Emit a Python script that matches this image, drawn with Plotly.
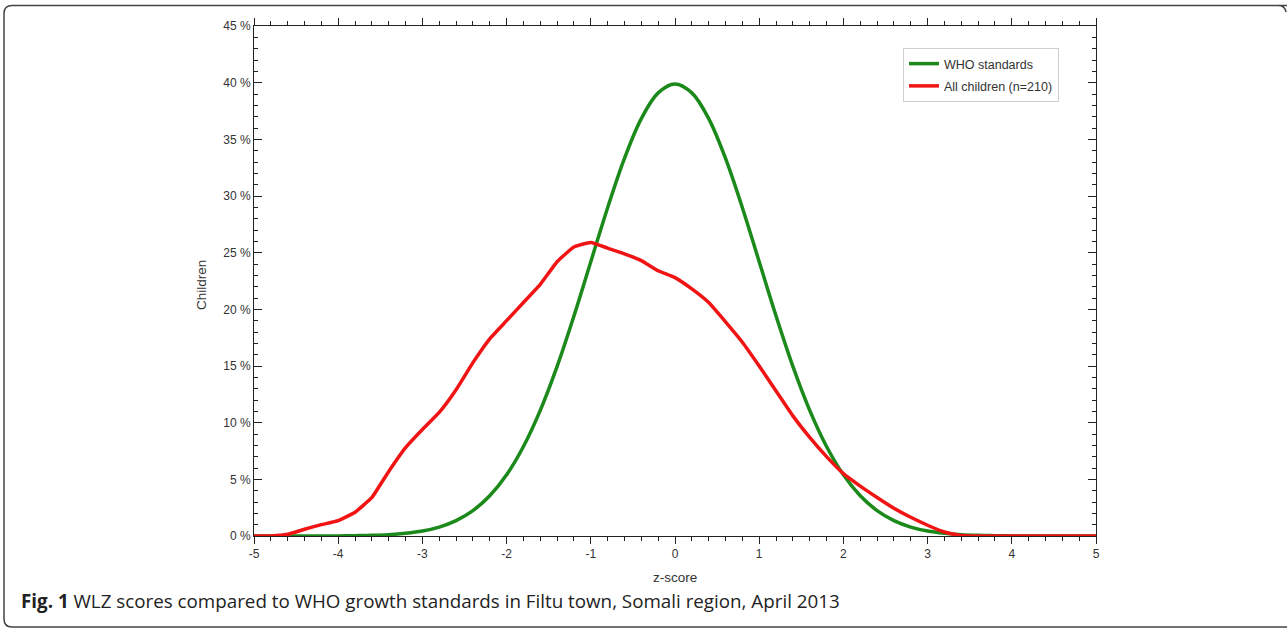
import plotly.graph_objects as go

# ---- data ----
z_grid = [-5.0, -4.8, -4.6, -4.4, -4.2, -4.0, -3.8, -3.6, -3.4, -3.2,
          -3.0, -2.8, -2.6, -2.4, -2.2, -2.0, -1.8, -1.6, -1.4, -1.2,
          -1.0, -0.8, -0.6, -0.4, -0.2, 0.0, 0.2, 0.4, 0.6, 0.8,
          1.0, 1.2, 1.4, 1.6, 1.8, 2.0, 2.2, 2.4, 2.6, 2.8,
          3.0, 3.2, 3.4, 3.6, 3.8, 4.0, 4.2, 4.4, 4.6, 4.8, 5.0]

who_pct = [0.0, 0.0, 0.0, 0.0, 0.0, 0.01, 0.03, 0.06, 0.12, 0.24,
           0.44, 0.79, 1.36, 2.24, 3.55, 5.40, 7.90, 11.09, 14.97, 19.42,
           24.20, 28.97, 33.32, 36.83, 39.10, 39.89, 39.10, 36.83, 33.32, 28.97,
           24.20, 19.42, 14.97, 11.09, 7.90, 5.40, 3.55, 2.24, 1.36, 0.79,
           0.44, 0.24, 0.12, 0.06, 0.03, 0.01, 0.0, 0.0, 0.0, 0.0, 0.0]

children_pct = [0.0, 0.0, 0.15, 0.6, 1.0, 1.35, 2.1, 3.4, 5.7, 7.8,
                9.4, 10.9, 12.9, 15.3, 17.4, 19.0, 20.6, 22.2, 24.2, 25.5,
                25.9, 25.4, 24.9, 24.3, 23.4, 22.8, 21.8, 20.6, 18.9, 17.1,
                15.0, 12.8, 10.6, 8.7, 7.0, 5.5, 4.4, 3.4, 2.45, 1.65,
                0.95, 0.35, 0.05, 0.0, 0.0, 0.0, 0.0, 0.0, 0.0, 0.0, 0.0]

series_names = ["WHO standards", "All children (n=210)"]
x_ticks = [-5, -4, -3, -2, -1, 0, 1, 2, 3, 4, 5]
x_tick_labels = ["-5", "-4", "-3", "-2", "-1", "0", "1", "2", "3", "4", "5"]
y_ticks = [0, 5, 10, 15, 20, 25, 30, 35, 40, 45]
y_tick_labels = ["0 %", "5 %", "10 %", "15 %", "20 %", "25 %", "30 %", "35 %", "40 %", "45 %"]

# ---- layout geometry ----
W_FIG, H_FIG = 1287, 628
ML, MR, MT, MB = 254, 191, 26, 92
PW = W_FIG - ML - MR
PH = H_FIG - MT - MB


def px(x):
    return (x - ML) / PW


def py(y):
    return (H_FIG - MB - y) / PH


fig = go.Figure()
fig.add_trace(go.Scatter(x=z_grid, y=who_pct, mode="lines", name=series_names[0],
                         legendgroup="a",
                         line=dict(color="#1b8a1b", width=3.5, shape="spline", smoothing=1.0)))
fig.add_trace(go.Scatter(x=z_grid, y=children_pct, mode="lines", name=series_names[1],
                         legendgroup="b",
                         line=dict(color="#f01414", width=3.5, shape="spline", smoothing=0.4)))

axis_font = dict(family="Liberation Sans, Arial, sans-serif", size=12, color="#333")

fig.update_xaxes(range=[-5, 5], tickvals=x_ticks, ticktext=x_tick_labels, ticks="outside",
                 ticklen=7, tickwidth=1,
                 tickcolor="#222", showline=True, linecolor="#222", linewidth=1,
                 mirror="ticks", showgrid=False, zeroline=False, tickfont=axis_font,
                 minor=dict(dtick=0.2, ticks="outside", ticklen=4, tickcolor="#222", showgrid=False))
fig.update_yaxes(range=[0, 45], tickvals=y_ticks, ticktext=y_tick_labels, ticks="inside", ticklen=8,
                 tickwidth=1, tickcolor="#222", showline=True, linecolor="#222", linewidth=1,
                 mirror="ticks", showgrid=False, zeroline=False, tickfont=axis_font,
                 minor=dict(dtick=1, ticks="inside", ticklen=4, tickcolor="#222", showgrid=False))

frame_path = (
    f"M {px(1290)} {py(5.5)} L {px(1278)} {py(5.5)} "
    f"Q {px(1285)} {py(5.5)} {px(1286)} {py(12)} "
    f"M {px(1278)} {py(5.5)} L {px(12)} {py(5.5)} "
    f"Q {px(4)} {py(5.5)} {px(4)} {py(13.5)} "
    f"L {px(4)} {py(619)} "
    f"Q {px(4)} {py(627)} {px(12)} {py(627)} "
    f"L {px(1290)} {py(627)}"
)

fig.update_layout(
    width=W_FIG, height=H_FIG,
    margin=dict(l=ML, r=MR, t=MT, b=MB, pad=0),
    paper_bgcolor="white", plot_bgcolor="white",
    font=dict(family="Liberation Sans, Arial, sans-serif", color="#333"),
    showlegend=True,
    legend=dict(x=px(903), y=py(48), xanchor="left", yanchor="top",
                bgcolor="white", bordercolor="#cfcfcf", borderwidth=1,
                font=dict(family="Liberation Sans, Arial, sans-serif", size=12.5, color="#333"),
                entrywidth=168, tracegroupgap=3),
    shapes=[dict(type="path", xref="paper", yref="paper", path=frame_path,
                 line=dict(color="#444", width=1.5), layer="above")],
    annotations=[
        dict(text="Children", xref="paper", yref="paper", x=px(201), y=py(285),
             textangle=-90, showarrow=False, xanchor="center", yanchor="middle",
             font=dict(family="Liberation Sans, Arial, sans-serif", size=13.5, color="#333")),
        dict(text="z-score", xref="paper", yref="paper", x=px(675), y=py(577),
             showarrow=False, xanchor="center", yanchor="middle",
             font=dict(family="Liberation Sans, Arial, sans-serif", size=13.5, color="#333")),
        dict(text="<b>Fig. 1</b> WLZ scores compared to WHO growth standards in Filtu town, Somali region, April 2013",
             xref="paper", yref="paper", x=px(19), y=py(601),
             showarrow=False, xanchor="left", yanchor="middle",
             font=dict(family="Open Sans, sans-serif", size=18.8, color="#222")),
    ],
)

fig.write_html("out.html", config={"displayModeBar": False},
               post_script="document.body.style.margin='0px';")
